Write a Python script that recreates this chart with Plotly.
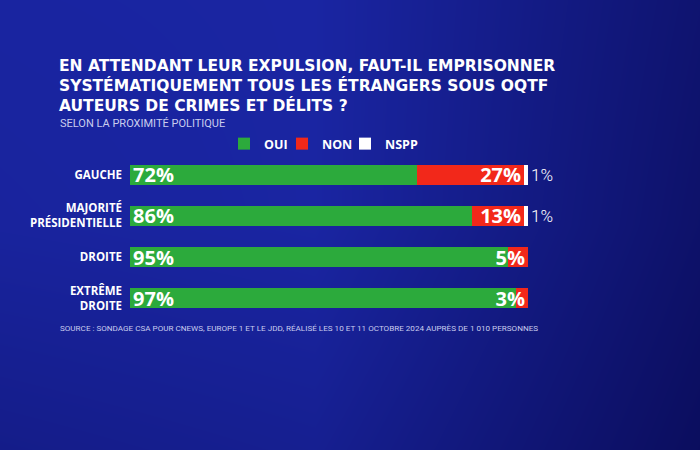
import numpy as np
import plotly.graph_objects as go

# ---- data ----
categories = ["GAUCHE", "MAJORITÉ<br>PRÉSIDENTIELLE", "DROITE", "EXTRÊME<br>DROITE"]
oui = [72, 86, 95, 97]
non = [27, 13, 5, 3]
nspp = [1, 1, 0, 0]
series_names = ["OUI", "NON", "NSPP"]

title_lines = [
    "EN ATTENDANT LEUR EXPULSION, FAUT-IL EMPRISONNER",
    "SYSTÉMATIQUEMENT TOUS LES ÉTRANGERS SOUS OQTF",
    "AUTEURS DE CRIMES ET DÉLITS ?",
]
subtitle = "SELON LA PROXIMITÉ POLITIQUE"
source = ("SOURCE : SONDAGE CSA POUR CNEWS, EUROPE 1 ET LE JDD, RÉALISÉ LES 10 ET 11 "
          "OCTOBRE 2024 AUPRÈS DE 1 010 PERSONNES")

# ---- style ----
GREEN = "#2caa3c"
RED = "#f2281a"
WHITE = "#ffffff"
W, H = 700, 450
BOLD = "Open Sans"

fig = go.Figure()

# background gradient (style only)
bg_x = [0, 0.45, 1]
bg_y = [0, 0.5, 1]
bg_z = [[0.40, 0.30, 0.95],
        [0.14, 0.08, 0.80],
        [0.10, 0.08, 0.72]]
fig.add_trace(go.Heatmap(x=bg_x, y=bg_y, z=bg_z, zsmooth="best", showscale=False,
                         colorscale=[[0, "#1b27a8"], [1, "#0a0c5a"]], zmin=0, zmax=1,
                         hoverinfo="skip", xaxis="x", yaxis="y", showlegend=False))

def pct(vals):
    return [f"{v}%" if v else "" for v in vals]

fig.add_trace(go.Bar(
    y=categories, x=oui, name=series_names[0], orientation="h", marker_color=GREEN,
    marker_line_width=0, text=pct(oui), textposition="inside", insidetextanchor="start",
    constraintext="none", textangle=0, legend="legend",
    insidetextfont=dict(family=BOLD, size=20, color=WHITE, weight=700),
    xaxis="x2", yaxis="y2", hoverinfo="skip"))
fig.add_trace(go.Bar(
    y=categories, x=non, name=series_names[1], orientation="h", marker_color=RED,
    marker_line_width=0, text=pct(non), textposition="inside", insidetextanchor="end",
    constraintext="none", textangle=0, legend="legend2",
    insidetextfont=dict(family=BOLD, size=20, color=WHITE, weight=700),
    xaxis="x2", yaxis="y2", hoverinfo="skip"))
fig.add_trace(go.Bar(
    y=categories, x=nspp, name=series_names[2], orientation="h", marker_color=WHITE,
    marker_line_width=0, text=pct(nspp), textposition="outside",
    constraintext="none", textangle=0, cliponaxis=False, legend="legend3",
    outsidetextfont=dict(family="Roboto", size=17, color=WHITE, weight=300),
    xaxis="x2", yaxis="y2", hoverinfo="skip"))

bar_top, bar_bottom = 154, 319  # px from top

def legend_at(px):
    return dict(orientation="h", x=(px - 14) / W, xanchor="left", y=1 - 144 / H,
                yanchor="middle", bgcolor="rgba(0,0,0,0)",
                font=dict(family=BOLD, size=12.5, color=WHITE, weight=700),
                itemwidth=30, itemclick=False, itemdoubleclick=False)

fig.update_layout(
    width=W, height=H,
    margin=dict(l=0, r=0, t=0, b=0),
    paper_bgcolor="#141c8c",
    plot_bgcolor="rgba(0,0,0,0)",
    barmode="stack", bargap=0.52,
    xaxis=dict(domain=[0, 1], range=[0, 1], visible=False, fixedrange=True),
    yaxis=dict(domain=[0, 1], range=[0, 1], visible=False, fixedrange=True),
    xaxis2=dict(domain=[130 / W, 528 / W], range=[0, 100], visible=False, anchor="y2"),
    yaxis2=dict(domain=[1 - bar_bottom / H, 1 - bar_top / H], anchor="x2",
                type="category", autorange="reversed",
                showgrid=False, zeroline=False, showline=False,
                ticks="", ticklabelstandoff=7,
                tickfont=dict(family=BOLD, size=11.5, color=WHITE, weight=700)),
    title=dict(text="<br>".join(title_lines), x=59 / W, xanchor="left",
               y=1 - 71 / H, yanchor="top", xref="paper", yref="paper",
               font=dict(family="DejaVu Sans", size=15.5, color=WHITE, weight=700)),
    showlegend=True,
    legend=legend_at(238),
    legend2=legend_at(296),
    legend3=legend_at(359),
    annotations=[
        dict(text=subtitle, x=58 / W, y=1 - 123.5 / H, xref="paper", yref="paper",
             xanchor="left", yanchor="middle", showarrow=False,
             font=dict(family="Roboto", size=11, color="#c9cdee")),
        dict(text=source, x=58 / W, y=1 - 328 / H, xref="paper", yref="paper",
             xanchor="left", yanchor="middle", showarrow=False,
             font=dict(family="Roboto", size=8.1, color="#c9cdee")),
    ],
)

fig.write_html("out.html", config={"displayModeBar": False},
               post_script="document.body.style.margin='0';")
